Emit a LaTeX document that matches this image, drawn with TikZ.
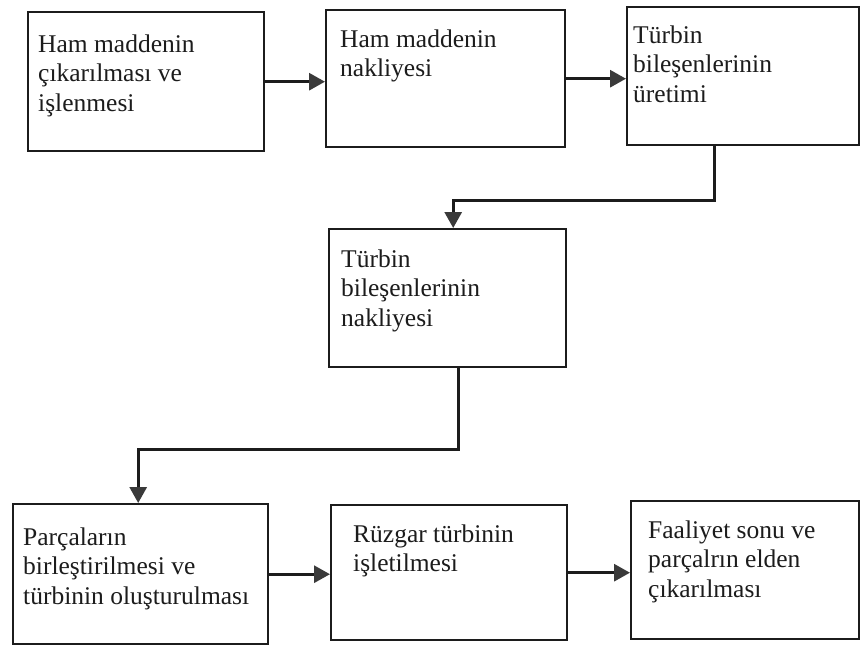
\documentclass[tikz,border=0pt]{standalone}
\usepackage{fontspec}
\setmainfont{Liberation Serif}
\usetikzlibrary{arrows.meta}
\definecolor{ink}{HTML}{1C1C1C}
\definecolor{tipc}{HTML}{3A3A3A}
\tikzset{
  boxst/.style={draw=ink, line width=2.4pt, inner sep=0pt},
  txt/.style={anchor=north west, inner sep=0pt, align=left, text=ink,
    font=\fontsize{25.5}{29.5}\selectfont},
  arr/.style={draw=ink, line width=3pt,
    -{Triangle[length=16pt,width=17pt,color=tipc]}}
}
\begin{document}
\begin{tikzpicture}[x=1pt,y=1pt]
\useasboundingbox (0,0) rectangle (860,-649);
\fill[white] (0,0) rectangle (860,-649);
% boxes
\node[boxst, minimum width=236pt, minimum height=139pt, anchor=north west] (b1) at (27,-11) {};
\node[boxst, minimum width=239pt, minimum height=137pt, anchor=north west] (b2) at (325,-9) {};
\node[boxst, minimum width=232pt, minimum height=138pt, anchor=north west] (b3) at (626,-6) {};
\node[boxst, minimum width=237pt, minimum height=138pt, anchor=north west] (b4) at (328,-228) {};
\node[boxst, minimum width=255pt, minimum height=140pt, anchor=north west] (b5) at (12,-503) {};
\node[boxst, minimum width=236pt, minimum height=135pt, anchor=north west] (b6) at (330,-504) {};
\node[boxst, minimum width=228pt, minimum height=138pt, anchor=north west] (b7) at (630,-500) {};
% texts (first baseline = top + 24pt)
\node[txt] (t1) at (38,-28) {\rule{0pt}{24pt}Ham maddenin\\çıkarılması ve\\işlenmesi};
\node[txt] (t2) at (340,-23) {\rule{0pt}{24pt}Ham maddenin\\nakliyesi};
\node[txt] (t3) at (633,-19) {\rule{0pt}{24pt}Türbin\\bileşenlerinin\\üretimi};
\node[txt] (t4) at (341,-243) {\rule{0pt}{24pt}Türbin\\bileşenlerinin\\nakliyesi};
\node[txt] (t5) at (23,-521) {\rule{0pt}{24pt}Parçaların\\birleştirilmesi ve\\türbinin oluşturulması};
\node[txt] (t6) at (353,-518) {\rule{0pt}{24pt}Rüzgar türbinin\\işletilmesi};
\node[txt] (t7) at (648,-514) {\rule{0pt}{24pt}Faaliyet sonu ve\\parçalrın elden\\çıkarılması};
% connectors
\draw[arr] (b1.east) -- (b1.east -| b2.west);
\draw[arr] (b2.east) -- (b2.east -| b3.west);
\draw[arr] ([xshift=-29pt]b3.south) -- ++(0,-54) -| ([xshift=5.5pt]b4.north);
\draw[arr] ([xshift=10.5pt]b4.south) -- ++(0,-81) -| ([xshift=-2.5pt]b5.north);
\draw[arr] (b5.east) -- (b5.east -| b6.west);
\draw[arr] (b6.east) -- (b6.east -| b7.west);
\end{tikzpicture}
\end{document}
